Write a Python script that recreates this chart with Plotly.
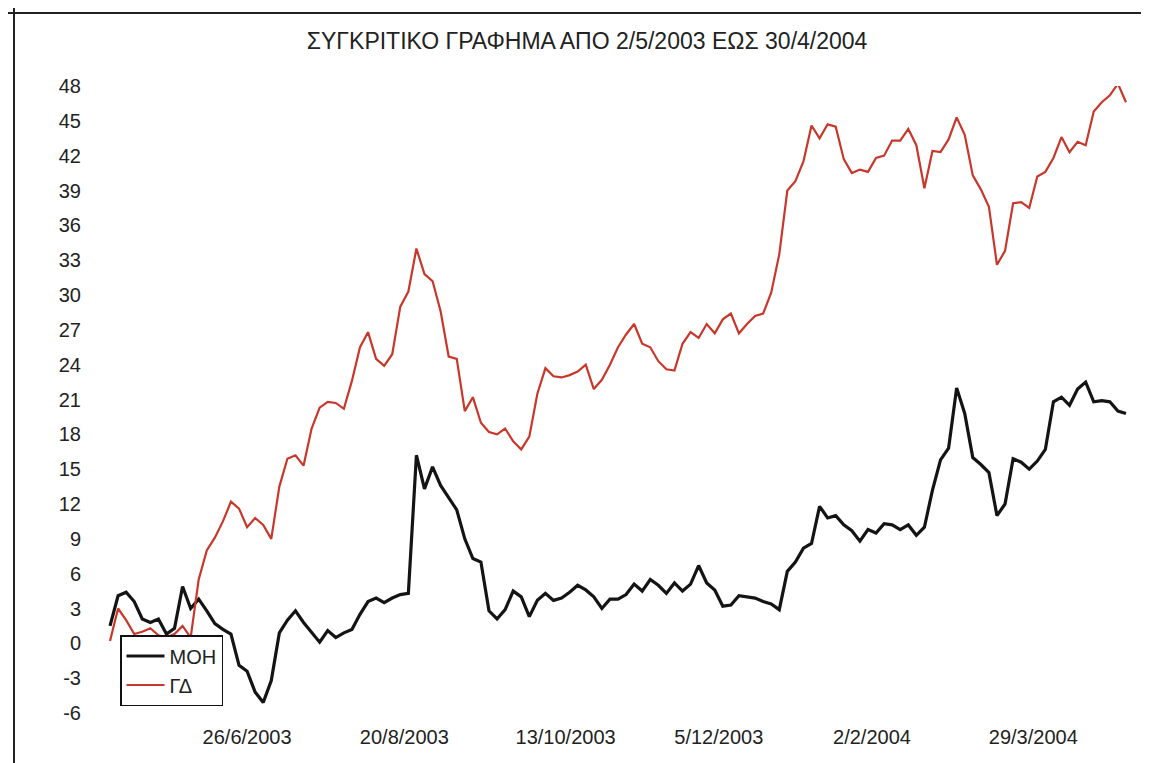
import plotly.graph_objects as go

title_text = "ΣΥΓΚΡΙΤΙΚΟ ΓΡΑΦΗΜΑ ΑΠΟ 2/5/2003 ΕΩΣ 30/4/2004"
series_names = ["ΜΟΗ", "ΓΔ"]

# trading-day index of each sample (one sample every two sessions)
trading_day = list(range(0, 254, 2))

moh = [1.5, 4.1, 4.4, 3.6, 2.1, 1.8, 2.1, 0.8, 1.3, 4.9,
       3.0, 3.8, 2.8, 1.7, 1.2, 0.8, -1.9, -2.4, -4.2, -5.1,
       -3.2, 0.9, 2.0, 2.8, 1.8, 0.9, 0.1, 1.1, 0.5, 0.9,
       1.2, 2.5, 3.6, 3.9, 3.5, 3.9, 4.2, 4.3, 16.2, 13.3,
       15.2, 13.6, 12.6, 11.5, 9.0, 7.3, 7.0, 2.8, 2.1, 2.9,
       4.5, 4.0, 2.3, 3.7, 4.3, 3.7, 3.9, 4.4, 5.0, 4.6,
       4.0, 3.0, 3.8, 3.8, 4.2, 5.1, 4.5, 5.5, 5.0, 4.3,
       5.2, 4.5, 5.1, 6.7, 5.2, 4.6, 3.2, 3.3, 4.1, 4.0,
       3.9, 3.6, 3.4, 2.9, 6.2, 7.0, 8.2, 8.6, 11.8, 10.8,
       11.0, 10.2, 9.7, 8.8, 9.8, 9.5, 10.3, 10.2, 9.8, 10.2,
       9.3, 10.0, 13.2, 15.8, 16.8, 22.0, 19.8, 16.0, 15.4, 14.7,
       11.0, 12.0, 15.9, 15.6, 15.0, 15.7, 16.7, 20.8, 21.2, 20.5,
       21.9, 22.5, 20.8, 20.9, 20.8, 20.0, 19.8]

gd = [0.2, 3.0, 2.0, 0.8, 1.0, 1.3, 0.7, 0.5, 0.8, 1.5,
      0.5, 5.5, 8.0, 9.1, 10.5, 12.2, 11.6, 10.0, 10.8, 10.2,
      9.0, 13.5, 15.9, 16.2, 15.3, 18.5, 20.3, 20.8, 20.7, 20.2,
      22.6, 25.5, 26.8, 24.5, 23.9, 24.9, 29.0, 30.3, 34.0, 31.8,
      31.2, 28.6, 24.7, 24.5, 20.0, 21.2, 19.0, 18.2, 18.0, 18.5,
      17.4, 16.7, 17.8, 21.5, 23.7, 23.0, 22.9, 23.1, 23.4, 24.0,
      21.9, 22.7, 24.0, 25.5, 26.6, 27.5, 25.8, 25.5, 24.3, 23.6,
      23.5, 25.8, 26.8, 26.3, 27.5, 26.7, 27.9, 28.4, 26.7, 27.5,
      28.2, 28.4, 30.2, 33.5, 39.0, 39.8, 41.5, 44.6, 43.5, 44.7,
      44.5, 41.7, 40.5, 40.8, 40.6, 41.8, 42.0, 43.3, 43.3, 44.3,
      42.9, 39.2, 42.4, 42.3, 43.4, 45.3, 43.8, 40.3, 39.1, 37.6,
      32.6, 33.8, 37.9, 38.0, 37.5, 40.2, 40.6, 41.8, 43.6, 42.3,
      43.2, 42.9, 45.8, 46.6, 47.2, 48.2, 46.6]

tick_days = [34, 73, 113, 151, 189, 229]
tick_labels = ["26/6/2003", "20/8/2003", "13/10/2003", "5/12/2003", "2/2/2004", "29/3/2004"]
y_ticks = [-6, -3, 0, 3, 6, 9, 12, 15, 18, 21, 24, 27, 30, 33, 36, 39, 42, 45, 48]
y_labels = [str(v) for v in y_ticks]

FONT = "Liberation Sans, Arial, sans-serif"
TXT = "#222222"

L, T, PW, PH = 100, 78, 1020, 627

fig = go.Figure()
fig.add_trace(go.Scatter(x=trading_day, y=moh, mode="lines", name=series_names[0],
                         line=dict(color="#141414", width=3.2)))
fig.add_trace(go.Scatter(x=trading_day, y=gd, mode="lines", name=series_names[1],
                         line=dict(color="#c9372a", width=2.2)))

fig.update_layout(
    width=1149, height=763,
    margin=dict(l=L, r=1149 - L - PW, t=T, b=763 - T - PH),
    paper_bgcolor="white", plot_bgcolor="white",
    font=dict(family=FONT, color=TXT),
    title=dict(text=title_text, x=0.504, xref="container", xanchor="center",
               y=1 - 33 / 763, yref="container", yanchor="middle",
               font=dict(size=23, family=FONT, color=TXT)),
    showlegend=True,
    legend=dict(x=12 / PW, y=0.1244, xanchor="left", yanchor="top",
                bgcolor="white", bordercolor="#111111", borderwidth=1.5,
                font=dict(size=20, family=FONT, color=TXT),
                tracegroupgap=0, itemwidth=38),
    xaxis=dict(range=[-0.5, 252.5], tickmode="array", tickvals=tick_days, ticktext=tick_labels,
               showgrid=False, zeroline=False, showline=False, ticks="",
               ticklabelstandoff=10, tickfont=dict(size=20, family=FONT, color=TXT)),
    yaxis=dict(range=[-6, 48], tickmode="array", tickvals=y_ticks, ticktext=y_labels,
               showgrid=False, zeroline=False, showline=False, ticks="",
               ticklabelstandoff=26, tickfont=dict(size=20, family=FONT, color=TXT)),
    shapes=[
        dict(type="line", xref="paper", yref="paper", x0=(6 - L) / PW, x1=(6 - L) / PW,
             y0=1 - (0 - T) / PH, y1=1 - (763 - T) / PH, line=dict(color=TXT, width=2)),
        dict(type="line", xref="paper", yref="paper", x0=(0 - L) / PW, x1=(1149 - L) / PW,
             y0=1 - (5 - T) / PH, y1=1 - (5 - T) / PH, line=dict(color=TXT, width=2)),
    ],
)

fig.write_html("out.html")
